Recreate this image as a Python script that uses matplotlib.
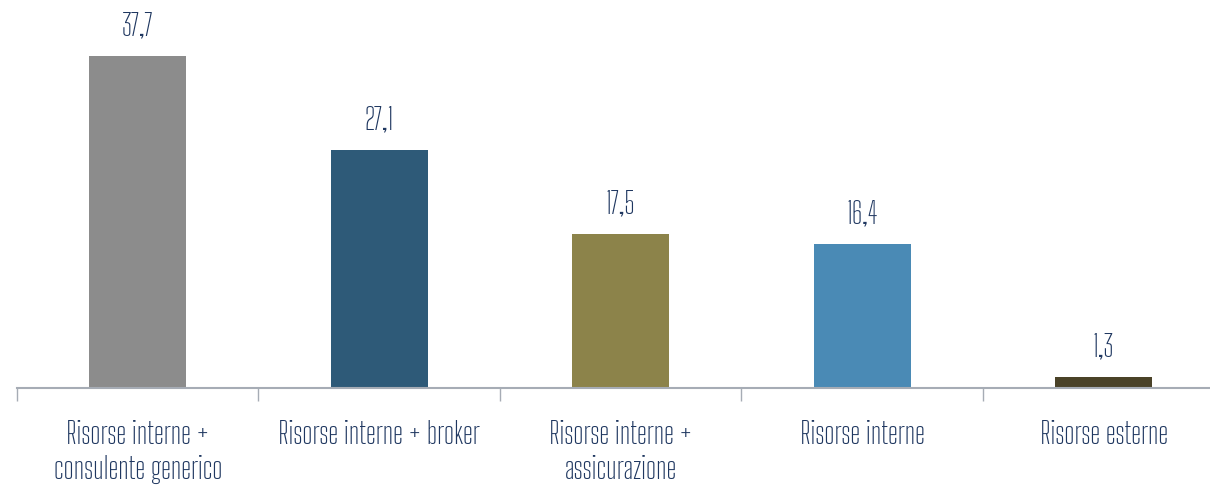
import matplotlib
matplotlib.use("Agg")
import matplotlib.pyplot as plt
from matplotlib import font_manager as fm
from matplotlib.textpath import TextPath
from matplotlib.font_manager import FontProperties

categories = ["Risorse interne +\nconsulente generico", "Risorse interne + broker",
              "Risorse interne +\nassicurazione", "Risorse interne", "Risorse esterne"]
values = [37.7, 27.1, 17.5, 16.4, 1.3]
value_labels = ["37,7", "27,1", "17,5", "16,4", "1,3"]
colors = ["#8c8c8c", "#2e5a78", "#8c834a", "#4a8ab5", "#4a4228"]

names = {f.name for f in fm.fontManager.ttflist}
candidates = ["Sofia Sans Extra Condensed", "Pathway Gothic One", "Saira Extra Condensed",
              "Sofia Sans Condensed", "Barlow Condensed", "Roboto Condensed", "Big Shoulders Text"]
avail = [c for c in candidates if c in names] or ["DejaVu Sans"]


def ext(s, fam, size=100):
    e = TextPath((0, 0), s, size=size, prop=FontProperties(family=fam)).get_extents()
    return e.width * 100 / 72, e.height * 100 / 72  # pixels at dpi 100


def fitted(fam, s, target_w):
    w, _ = ext(s, fam)
    fs = 100 * target_w / w
    _, ch = ext("R", fam, fs)
    return fs, ch


scores = []
for f in avail:
    fs, ch = fitted(f, "Risorse interne + broker", 200)
    scores.append((abs(ch - 22), f, fs))
scores.sort()
_, fam, lab_fs = scores[0]
val_fs = 100 * 23.5 / ext("7", fam)[1]
txt_color = "#1f3760"

W, H = 1210, 493
fig = plt.figure(figsize=(W/100, H/100), dpi=100)
ax = fig.add_axes([17/W, (H-388)/H, (W-17)/W, 352/H])
x = list(range(len(values)))
ax.bar(x, values, width=0.40, color=colors)
ax.set_xlim(-0.5, 4.44)
ax.set_ylim(0, 40)
for xi, v, lab in zip(x, values, value_labels):
    ax.text(xi, v + 2.3, lab, ha="center", va="baseline", fontsize=val_fs, color=txt_color, family=fam)
for s in ["top", "right", "left"]:
    ax.spines[s].set_visible(False)
ax.spines["bottom"].set_color("#a6acb5")
ax.spines["bottom"].set_linewidth(1.5)
ax.set_yticks([])
ax.set_xticks([-0.5, 0.5, 1.5, 2.5, 3.5])
ax.set_xticklabels([])
ax.tick_params(axis="x", length=9, width=1, color="#a6acb5")
px = 40 / 352  # data units per pixel
for xi, c in zip(x, categories):
    for k, line in enumerate(c.split("\n")):
        ax.text(xi, -(444 - 388 + 35 * k) * px, line, ha="center", va="baseline",
                fontsize=lab_fs, color=txt_color, family=fam, clip_on=False)
fig.savefig("out.png", dpi=100)
